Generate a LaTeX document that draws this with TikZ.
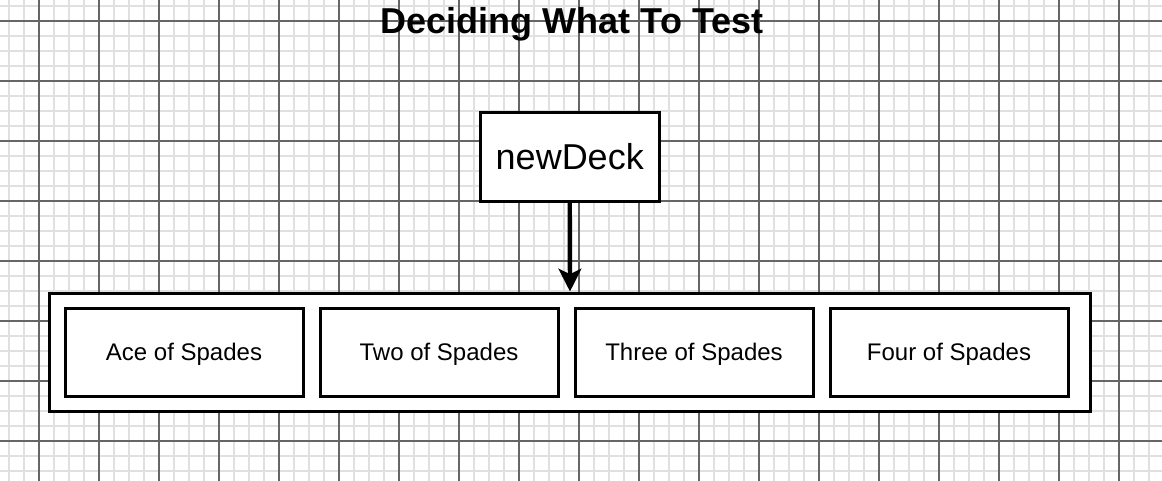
\documentclass[tikz,border=0pt]{standalone}
\usepackage{fontspec}
\setmainfont{Liberation Sans}
\usetikzlibrary{arrows.meta}
\definecolor{minorgrid}{HTML}{E0E0E0}
\definecolor{majorgrid}{HTML}{666666}
\tikzset{
  minorline/.style={draw=minorgrid, line width=1.2pt},
  majorline/.style={draw=majorgrid, line width=0.8pt},
  box/.style={draw=black, fill=white, line width=2.25pt, rectangle, inner sep=0pt},
  deckbox/.style={box, minimum width=178.5\pxu, minimum height=88.5\pxu, font=\fontsize{27pt}{32pt}\selectfont},
  containerbox/.style={box, minimum width=1041\pxu, minimum height=118\pxu},
  cardbox/.style={box, minimum width=238\pxu, minimum height=88\pxu, text depth=0pt, font=\fontsize{18pt}{22pt}\selectfont},
  titletext/.style={font=\fontsize{27pt}{32pt}\selectfont\bfseries, anchor=base, inner sep=0pt},
  flow/.style={draw=black, line width=3.3pt, -{Stealth[length=17pt, width=17pt, inset=4pt]}}
}
\newlength{\pxu}
\setlength{\pxu}{0.75pt}
\begin{document}
\begin{tikzpicture}[x=0.75pt, y=-0.75pt]
\useasboundingbox (0,0) rectangle (1162,481);
\fill[white] (0,0) rectangle (1162,481);
\begin{scope}
\clip (0,0) rectangle (1162,481);
\foreach \i in {0,...,77} {\draw[minorline] ({9+15*\i},0) -- ({9+15*\i},481);}
\foreach \j in {0,...,31} {\draw[minorline] (0,{6+15*\j}) -- (1162,{6+15*\j});}
\foreach \i in {0,...,18} {\draw[majorline] ({39+60*\i},0) -- ({39+60*\i},481);}
\foreach \j in {0,...,7} {\draw[majorline] (0,{21+60*\j}) -- (1162,{21+60*\j});}
\end{scope}

\node[titletext] (title) at (572,33.5) {Deciding What To Test};

\node[deckbox] (deck) at (569.75,157) {newDeck};
\node[containerbox] (cards) at (570,352) {};
\node[cardbox] (ace) at (184,352) {Ace of Spades};
\node[cardbox] (two) at (439,352) {Two of Spades};
\node[cardbox] (three) at (694,352) {Three of Spades};
\node[cardbox] (four) at (949,352) {Four of Spades};

\draw[flow] (deck.south) -- (cards.north);
\end{tikzpicture}
\end{document}
